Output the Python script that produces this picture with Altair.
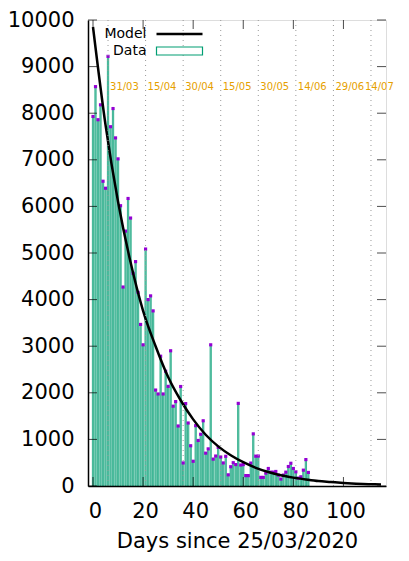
import altair as alt
import pandas as pd

# ---- data ----
days = list(range(87))
cases = [7930, 8570, 7860, 8180, 6540, 6390, 9220, 7710, 8100, 7470,
         7020, 6015, 4270, 5470, 6170, 5750, 4565, 4815, 4155, 3467,
         3030, 5085, 4000, 4080, 3758, 2059, 1975, 2785, 1975, 2463,
         2138, 2902, 1713, 1811, 1288, 2135, 495, 1769, 1352, 864,
         531, 1295, 977, 1110, 1400, 705, 797, 3030, 577, 643,
         830, 622, 495, 637, 240, 414, 500, 460, 1773, 450,
         460, 223, 223, 492, 1119, 640, 643, 185, 185, 276,
         376, 297, 297, 312, 234, 149, 234, 297, 418, 488,
         376, 304, 170, 198, 340, 567, 291]

model_days = [0, 5, 10, 15, 20, 25, 30, 35, 40, 45, 50, 55, 60, 65, 70,
              75, 80, 85, 90, 95, 100, 105, 110, 115]
model_vals = [9850, 7750, 6100, 4800, 3760, 3000, 2340, 1840, 1430, 1100,
              850, 660, 510, 390, 300, 230, 180, 140, 105, 85, 65, 50, 40, 30]

date_days = [6, 21, 36, 51, 66, 81, 96, 111]
date_labels = ["31/03", "15/04", "30/04", "15/05", "30/05", "14/06", "29/06", "14/07"]

x_ticks = [0, 20, 40, 60, 80, 100]
y_ticks = list(range(0, 10001, 1000))

W, H = 298, 466
FONT = "DejaVu Sans"
GREEN = "#009e73"
PURPLE = "#9400d3"
ORANGE = "#e69f00"

df = pd.DataFrame({"day": days, "cases": cases})
dm = pd.DataFrame({"day": model_days, "model": model_vals})
dd = pd.DataFrame({"day": date_days, "label": date_labels})
dxt = pd.DataFrame({"t": x_ticks})
dyt = pd.DataFrame({"t": y_ticks})
one = pd.DataFrame({"k": [0]})

xs = alt.Scale(domain=[0, 115], nice=False, zero=False)
ys = alt.Scale(domain=[0, 10000], nice=False)

xaxis = alt.Axis(values=x_ticks, title="Days since 25/03/2020", grid=False,
                 ticks=False, tickSize=0, labelFontSize=21, labelFont=FONT,
                 labelPadding=14, labelOffset=2, labelColor="black",
                 titleFontSize=21, titleFont=FONT, titleFontWeight="normal",
                 titlePadding=9, titleColor="black",
                 domainColor="black", domainWidth=1.5, zindex=1)
yaxis = alt.Axis(values=y_ticks, title=None, grid=False, ticks=False, tickSize=0,
                 format="d", labelFontSize=21, labelFont=FONT, labelPadding=14,
                 labelColor="black", domainColor="black", domainWidth=1.5,
                 zindex=1)

bars = alt.Chart(df).mark_bar(size=1.3, fill=GREEN, fillOpacity=0.45, stroke=GREEN,
                              strokeWidth=0.7, clip=True).encode(
    x=alt.X("day:Q", scale=xs, axis=xaxis),
    y=alt.Y("cases:Q", scale=ys, axis=yaxis),
)

pts = alt.Chart(df).mark_square(size=10, color=PURPLE, opacity=1, clip=True).encode(
    x=alt.X("day:Q", scale=xs),
    y=alt.Y("cases:Q", scale=ys),
)

model = alt.Chart(dm).mark_line(color="black", strokeWidth=2.5,
                                interpolate="monotone", clip=True).encode(
    x=alt.X("day:Q", scale=xs),
    y=alt.Y("model:Q", scale=ys),
)

rules = alt.Chart(dd).mark_rule(color="#999999", strokeWidth=1,
                                strokeDash=[1, 4]).encode(
    x=alt.X("day:Q", scale=xs),
)

dtext = alt.Chart(dd).mark_text(align="left", baseline="middle", dx=2,
                                color=ORANGE, fontSize=10, font=FONT).encode(
    x=alt.X("day:Q", scale=xs),
    y=alt.value(67),
    text="label:N",
).transform_filter("datum.day < 100")

dtext_last = alt.Chart(dd).mark_text(align="left", baseline="middle", dx=-6,
                                     color=ORANGE, fontSize=10, font=FONT).encode(
    x=alt.X("day:Q", scale=xs),
    y=alt.value(67),
    text="label:N",
).transform_filter("datum.day >= 100")

ytl = alt.Chart(dyt).mark_tick(orient="horizontal", size=9, thickness=1,
                               color="black").encode(
    y=alt.Y("t:Q", scale=ys), x=alt.value(4.5))
ytr = alt.Chart(dyt).mark_tick(orient="horizontal", size=9, thickness=1,
                               color="black").encode(
    y=alt.Y("t:Q", scale=ys), x=alt.value(W - 4.5))
xtb = alt.Chart(dxt).mark_tick(orient="vertical", size=9, thickness=1,
                               color="black").encode(
    x=alt.X("t:Q", scale=xs), y=alt.value(H - 4.5))
xtt = alt.Chart(dxt).mark_tick(orient="vertical", size=9, thickness=1,
                               color="black").encode(
    x=alt.X("t:Q", scale=xs), y=alt.value(4.5))

# legend
leg_model_t = alt.Chart(one).mark_text(align="right", baseline="middle",
                                       fontSize=14, font=FONT, color="black",
                                       text="Model").encode(
    x=alt.value(58.5), y=alt.value(14))
leg_data_t = alt.Chart(one).mark_text(align="right", baseline="middle",
                                      fontSize=14, font=FONT, color="black",
                                      text="Data").encode(
    x=alt.value(58.5), y=alt.value(31))
leg_line = alt.Chart(one).mark_rule(color="black", strokeWidth=2.5).encode(
    x=alt.value(68.5), x2=alt.value(114.5), y=alt.value(14))
leg_box = alt.Chart(one).mark_rect(fill="white", stroke=GREEN,
                                   strokeWidth=1.2).encode(
    x=alt.value(68.5), x2=alt.value(114.5), y=alt.value(27), y2=alt.value(35))

chart = alt.layer(
    bars, pts, model, rules, dtext, dtext_last, ytl, ytr, xtb, xtt,
    leg_model_t, leg_data_t, leg_line, leg_box,
).properties(
    width=W, height=H,
    autosize=alt.AutoSizeParams(type="none"),
    padding={"left": 80, "top": 12, "right": 15, "bottom": 67},
).configure_view(
    stroke="black", strokeWidth=1.5
).configure(background="white")

chart.save("out.html", embed_options={"renderer": "svg", "actions": False})
